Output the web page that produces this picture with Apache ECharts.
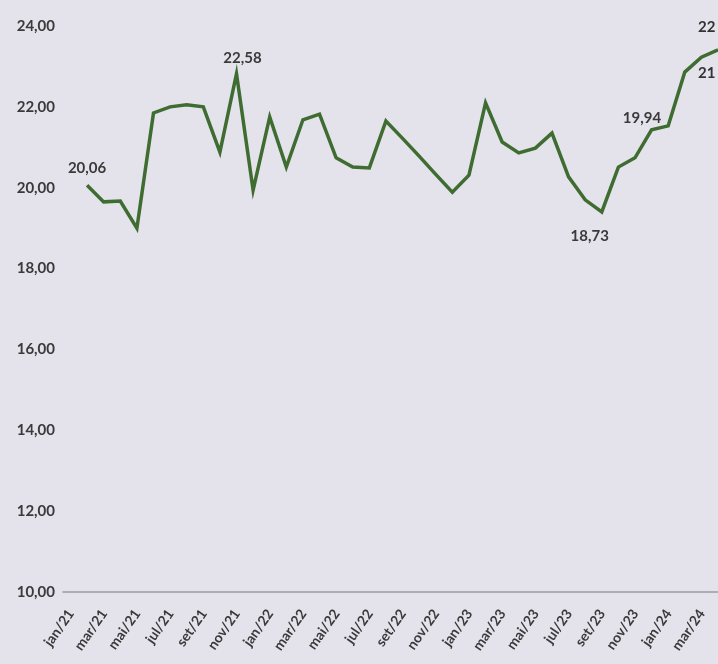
<!DOCTYPE html>
<html>
<head>
<meta charset="utf-8">
<script src="https://cdn.jsdelivr.net/npm/echarts@6/dist/echarts.min.js"></script>
<style>
  html, body { margin: 0; padding: 0; background: #e4e3ec; }
  #chart { width: 718px; height: 664px; }
</style>
</head>
<body>
<div id="chart"></div>
<script>
var months = ['jan/21','fev/21','mar/21','abr/21','mai/21','jun/21','jul/21','ago/21','set/21','out/21','nov/21','dez/21',
              'jan/22','fev/22','mar/22','abr/22','mai/22','jun/22','jul/22','ago/22','set/22','out/22','nov/22','dez/22',
              'jan/23','fev/23','mar/23','abr/23','mai/23','jun/23','jul/23','ago/23','set/23','out/23','nov/23','dez/23',
              'jan/24','fev/24','mar/24'];

var values = [20.06, 19.65, 19.67, 19.00, 21.85, 22.00, 22.05, 22.00, 20.88, 22.82, 19.94, 21.75,
              20.51, 21.68, 21.82, 20.74, 20.51, 20.49, 21.65, 21.22, 20.78, 20.33, 19.89, 20.31,
              22.10, 21.13, 20.86, 20.98, 21.35, 20.27, 19.70, 19.40, 20.51, 20.74, 21.43, 21.53,
              22.86, 23.23, 23.41];

// point labels as printed on the chart (index -> text)
var pointLabels = { 0: '20,06', 9: '22,58', 31: '18,73', 35: '19,94' };
var lastLabels = ['22', '21'];

var labelTicks = [];
for (var i = 0; i < months.length; i += 2) labelTicks.push(i);

var chart = echarts.init(document.getElementById('chart'));

var font = 'Lato, "Open Sans", sans-serif';

var seriesData = values.map(function (v, i) {
    var item = { value: [i, v] };
    if (pointLabels[i] !== undefined) {
        var lb = { show: true, formatter: pointLabels[i] };
        if (i === 0) { lb.position = 'top'; lb.distance = 10; }
        if (i === 9) { lb.position = 'top'; lb.offset = [6, -3]; }
        if (i === 31) { lb.position = 'bottom'; lb.offset = [-12, 12]; }
        if (i === 35) { lb.position = 'left'; lb.offset = [-2, -8]; }
        item.label = lb;
    }
    if (i === values.length - 1) {
        item.label = {
            show: true,
            position: 'inside',
            align: 'left',
            offset: [-20, 0],
            formatter: '{a|' + lastLabels[0] + '}\n{s|}\n{a|' + lastLabels[1] + '}',
            rich: {
                a: { fontSize: 15, lineHeight: 16, color: '#333', fontFamily: font, fontWeight: 'bold' },
                s: { lineHeight: 30 }
            }
        };
    }
    return item;
});

var option = {
    backgroundColor: '#e4e3ec',
    animation: false,
    grid: { left: 63, right: 0, top: 26, bottom: 72, containLabel: false },
    xAxis: {
        type: 'value',
        min: -1.45,
        max: 38,
        splitLine: { show: false },
        axisTick: { show: false },
        axisLine: { show: true, lineStyle: { color: '#9a99a3', width: 1.5 } },
        axisLabel: {
            customValues: labelTicks,
            rotate: 55,
            margin: -4,
            padding: [0, 28, 0, 0],
            fontSize: 14,
            fontWeight: 'bold',
            color: '#3a3a3a',
            fontFamily: font,
            formatter: function (v) { return months[Math.round(v)] || ''; }
        }
    },
    yAxis: {
        type: 'value',
        min: 10,
        max: 24,
        interval: 2,
        splitLine: { show: false },
        axisLine: { show: false },
        axisTick: { show: false },
        axisLabel: {
            margin: 8,
            fontSize: 15,
            fontWeight: 'bold',
            color: '#3a3a3a',
            fontFamily: font,
            formatter: function (v) { return v.toFixed(2).replace('.', ','); }
        }
    },
    series: [{
        type: 'line',
        data: seriesData,
        clip: false,
        showSymbol: true,
        symbol: 'circle',
        symbolSize: 0.1,
        itemStyle: { color: '#3f6c30' },
        lineStyle: { color: '#3f6c30', width: 3.5, join: 'miter' },
        label: { fontSize: 15, fontWeight: 'bold', color: '#3a3a3a', fontFamily: font }
    }]
};

chart.setOption(option);
</script>
</body>
</html>
